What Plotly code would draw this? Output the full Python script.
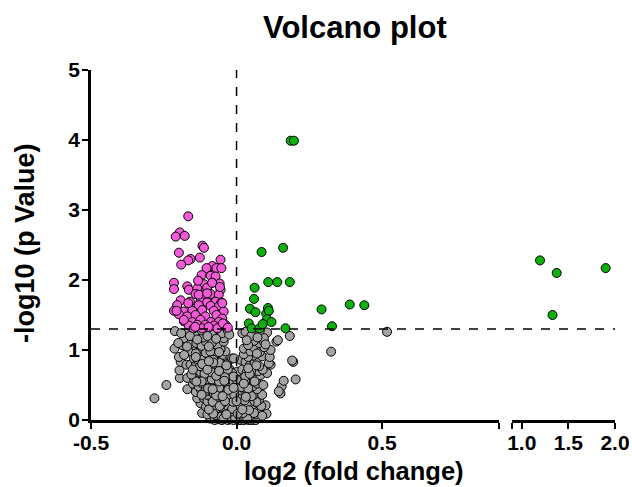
import plotly.graph_objects as go

# ---------------- data ----------------
pink_pts = [
    (-0.166, 2.91), (-0.195, 2.68), (-0.209, 2.62), (-0.178, 2.63), (-0.117, 2.49), (-0.112, 2.46),
    (-0.198, 2.39), (-0.158, 2.30), (-0.166, 2.28), (-0.126, 2.32), (-0.190, 2.22), (-0.055, 2.29),
    (-0.083, 2.20), (-0.103, 2.17), (-0.069, 2.17), (-0.052, 2.17), (-0.120, 2.07), (-0.089, 2.06),
    (-0.072, 2.05), (-0.215, 1.96), (-0.169, 1.91), (-0.130, 1.98), (-0.112, 1.94), (-0.058, 1.95),
    (-0.083, 1.96), (-0.164, 1.86), (-0.135, 1.88), (-0.101, 1.89), (-0.055, 1.86), (-0.141, 1.80),
    (-0.112, 1.79), (-0.089, 1.80), (-0.061, 1.79), (-0.192, 1.71), (-0.160, 1.69), (-0.124, 1.69),
    (-0.101, 1.68), (-0.072, 1.69), (-0.052, 1.68), (-0.204, 1.64), (-0.130, 1.64), (-0.089, 1.63),
    (-0.061, 1.62), (-0.215, 1.56), (-0.181, 1.55), (-0.152, 1.56), (-0.118, 1.57), (-0.078, 1.56),
    (-0.044, 1.55), (-0.198, 1.51), (-0.169, 1.48), (-0.141, 1.50), (-0.107, 1.48), (-0.069, 1.50),
    (-0.049, 1.45), (-0.181, 1.41), (-0.152, 1.40), (-0.124, 1.43), (-0.089, 1.40), (-0.061, 1.40),
    (-0.164, 1.35), (-0.135, 1.36), (-0.107, 1.36), (-0.078, 1.35), (-0.049, 1.35), (-0.147, 1.31),
    (-0.118, 1.31), (-0.066, 1.31), (-0.038, 1.36), (-0.215, 1.87), (-0.206, 1.56), (-0.181, 1.43),
    (-0.166, 1.67), (-0.132, 1.99), (-0.130, 1.79), (-0.101, 1.81), (-0.084, 1.96), (-0.057, 1.90),
    (-0.049, 1.67), (-0.047, 1.38), (-0.096, 1.33), (-0.142, 1.33), (-0.030, 1.32),
]

green_pts = [
    (0.186, 3.99), (0.197, 3.99), (0.160, 2.46), (0.086, 2.40), (0.109, 1.97), (0.140, 1.97),
    (0.183, 1.97), (0.062, 1.89), (0.060, 1.73), (0.046, 1.59), (0.065, 1.54), (0.102, 1.52),
    (0.108, 1.60), (0.111, 1.56), (0.105, 1.44), (0.120, 1.40), (0.042, 1.38), (0.052, 1.31),
    (0.079, 1.31), (0.090, 1.37), (0.168, 1.31), (0.292, 1.58), (0.328, 1.34), (0.389, 1.65),
    (0.439, 1.64), (1.196, 2.28), (1.375, 2.10), (1.900, 2.17), (1.330, 1.50),
]

gray_pts = [
    (-0.090, 0.02), (-0.075, 0.00), (-0.060, 0.01), (-0.050, 0.00), (-0.040, 0.03), (-0.030, 0.00),
    (-0.020, 0.01), (-0.010, 0.00), (0.000, 0.02), (0.008, 0.00), (0.016, 0.00), (0.025, 0.00),
    (0.033, 0.01), (0.042, 0.00), (0.050, 0.00), (0.058, 0.00), (0.066, 0.00), (-0.015, 0.04),
    (0.020, 0.05), (-0.065, 0.04),
    (-0.118, 0.10), (-0.100, 0.08), (-0.085, 0.12), (-0.070, 0.07), (-0.060, 0.13), (-0.045, 0.09),
    (-0.035, 0.14), (-0.025, 0.08), (-0.012, 0.11), (-0.004, 0.06), (0.006, 0.13), (0.015, 0.08),
    (0.028, 0.12), (0.038, 0.07), (0.048, 0.11), (0.056, 0.14), (0.066, 0.08), (0.080, 0.12),
    (0.103, 0.09), (0.088, 0.06), (-0.050, 0.15), (0.000, 0.15),
    (-0.124, 0.24), (-0.105, 0.19), (-0.090, 0.22), (-0.078, 0.17), (-0.066, 0.23), (-0.055, 0.18),
    (-0.044, 0.21), (-0.033, 0.17), (-0.022, 0.24), (-0.010, 0.19), (-0.003, 0.22), (0.008, 0.17),
    (0.018, 0.23), (0.030, 0.19), (0.040, 0.16), (0.052, 0.22), (0.060, 0.18), (0.072, 0.24),
    (0.100, 0.21), (0.085, 0.20),
    (-0.135, 0.31), (-0.112, 0.31), (-0.100, 0.27), (-0.088, 0.33), (-0.075, 0.28), (-0.064, 0.34),
    (-0.052, 0.27), (-0.040, 0.32), (-0.030, 0.28), (-0.018, 0.34), (-0.008, 0.29), (0.004, 0.33),
    (0.015, 0.27), (0.025, 0.31), (0.036, 0.34), (0.046, 0.28), (0.058, 0.32), (0.077, 0.29),
    (0.068, 0.26),
    (-0.169, 0.44), (-0.140, 0.40), (-0.122, 0.43), (-0.101, 0.36), (-0.090, 0.41), (-0.078, 0.38),
    (-0.066, 0.43), (-0.055, 0.37), (-0.045, 0.41), (-0.035, 0.44), (-0.022, 0.38), (-0.015, 0.40),
    (-0.003, 0.40), (0.008, 0.43), (0.020, 0.37), (0.030, 0.42), (0.048, 0.40), (0.060, 0.36),
    (0.088, 0.36), (0.070, 0.44),
    (-0.241, 0.50), (-0.150, 0.52), (-0.130, 0.48), (-0.118, 0.52), (-0.105, 0.47), (-0.092, 0.54),
    (-0.080, 0.49), (-0.068, 0.53), (-0.049, 0.52), (-0.040, 0.47), (-0.028, 0.51), (-0.015, 0.48),
    (-0.004, 0.53), (0.010, 0.50), (0.028, 0.46), (0.042, 0.53), (0.055, 0.48), (0.071, 0.52),
    (0.092, 0.50), (0.155, 0.48), (0.151, 0.38), (0.145, 0.41), (-0.282, 0.31),
    (-0.195, 0.60), (-0.169, 0.60), (-0.130, 0.60), (-0.145, 0.57), (-0.115, 0.63), (-0.100, 0.58),
    (-0.088, 0.62), (-0.075, 0.57), (-0.062, 0.64), (-0.050, 0.59), (-0.032, 0.64), (-0.020, 0.58),
    (0.002, 0.64), (0.015, 0.60), (0.042, 0.60), (0.055, 0.63), (0.068, 0.58), (0.082, 0.64),
    (0.203, 0.58), (0.162, 0.56),
    (-0.196, 0.71), (-0.141, 0.74), (-0.125, 0.69), (-0.110, 0.72), (-0.095, 0.67), (-0.078, 0.69),
    (-0.065, 0.74), (-0.052, 0.70), (-0.040, 0.67), (-0.025, 0.73), (0.002, 0.69), (-0.015, 0.67),
    (0.020, 0.72), (0.035, 0.68), (0.060, 0.74), (0.075, 0.70), (0.105, 0.67), (0.090, 0.72),
    (-0.192, 0.83), (-0.172, 0.79), (-0.158, 0.79), (-0.140, 0.82), (-0.125, 0.77), (-0.110, 0.84),
    (-0.098, 0.78), (-0.085, 0.81), (-0.070, 0.76), (-0.055, 0.79), (-0.045, 0.84), (-0.032, 0.80),
    (0.014, 0.86), (0.031, 0.83), (0.045, 0.78), (0.062, 0.81), (0.078, 0.77), (0.117, 0.79),
    (0.111, 0.81), (0.195, 0.83), (0.191, 0.85),
    (-0.198, 0.90), (-0.147, 0.88), (-0.124, 0.93), (-0.135, 0.87), (-0.112, 0.89), (-0.100, 0.94),
    (-0.088, 0.87), (-0.075, 0.92), (-0.060, 0.88), (-0.048, 0.93), (-0.015, 0.88), (-0.009, 0.88),
    (0.071, 0.88), (0.058, 0.92), (0.040, 0.90), (0.088, 0.91), (0.114, 0.90), (0.025, 0.94),
    (-0.213, 1.02), (-0.147, 1.02), (-0.165, 0.98), (-0.130, 0.97), (-0.118, 1.03), (-0.089, 1.00),
    (-0.105, 0.96), (-0.072, 1.04), (-0.038, 0.98), (-0.055, 1.01), (0.025, 1.02), (0.048, 0.98),
    (0.062, 1.03), (0.080, 0.97), (0.117, 1.00), (0.095, 1.04),
    (-0.187, 1.07), (-0.179, 1.15), (-0.152, 1.14), (-0.160, 1.08), (-0.138, 1.10), (-0.120, 1.06),
    (-0.105, 1.12), (-0.066, 1.07), (-0.085, 1.10), (-0.044, 1.12), (0.077, 1.10), (0.060, 1.13),
    (0.040, 1.07), (0.094, 1.12), (0.137, 1.12), (0.142, 1.14),
    (-0.212, 1.27), (-0.181, 1.17), (-0.130, 1.21), (-0.145, 1.25), (-0.115, 1.18), (-0.095, 1.26),
    (-0.080, 1.22), (-0.061, 1.29), (-0.044, 1.17), (-0.050, 1.24), (-0.030, 1.28), (-0.120, 1.28),
    (-0.165, 1.28), (0.020, 1.24), (0.031, 1.26), (0.065, 1.24), (0.105, 1.25), (0.094, 1.17),
    (0.050, 1.20), (0.183, 1.20), (0.080, 1.28),
    (0.325, 0.976), (0.517, 1.26),
    (-0.052, 0.05), (-0.038, 0.06), (-0.027, 0.03), (0.012, 0.04), (0.030, 0.03), (0.045, 0.05),
    (-0.070, 0.16), (-0.030, 0.20), (0.012, 0.20), (0.045, 0.25), (-0.058, 0.30), (0.010, 0.30),
    (-0.030, 0.36), (0.038, 0.38), (-0.060, 0.46), (0.018, 0.47), (-0.085, 0.58), (-0.010, 0.55),
    (0.030, 0.56), (-0.090, 0.75), (-0.060, 0.82), (-0.030, 0.72), (0.050, 0.70), (0.030, 0.62),
    (-0.070, 0.95), (-0.110, 0.66), (-0.120, 0.55), (-0.110, 0.40),
    (-0.045, 0.02), (-0.005, 0.03), (0.037, 0.02), (-0.080, 0.09), (-0.020, 0.12), (0.022, 0.10),
    (0.060, 0.10), (-0.095, 0.15), (-0.015, 0.16), (0.035, 0.22), (-0.082, 0.26), (-0.048, 0.24),
    (-0.012, 0.26), (0.028, 0.28), (-0.120, 0.36), (-0.070, 0.35), (-0.008, 0.36), (0.052, 0.34),
    (-0.098, 0.45), (-0.028, 0.43), (0.040, 0.45), (-0.138, 0.55), (-0.060, 0.55), (0.000, 0.58),
    (0.062, 0.55), (-0.155, 0.65), (-0.085, 0.68), (-0.040, 0.61), (0.045, 0.66), (-0.150, 0.72),
    (-0.118, 0.80), (-0.080, 0.86), (0.040, 0.74), (0.068, 0.78), (-0.180, 0.93), (-0.140, 0.95),
    (-0.090, 0.98), (0.070, 0.95), (-0.200, 1.10), (-0.095, 1.05), (0.100, 1.08), (-0.160, 1.20),
    (-0.100, 1.20), (-0.070, 1.16), (0.035, 1.14), (0.072, 1.18), (-0.190, 1.24), (-0.025, 1.22),
    (-0.035, 0.08), (0.004, 0.09), (0.043, 0.14), (-0.058, 0.20), (0.020, 0.15), (-0.040, 0.27),
    (0.000, 0.27), (-0.048, 0.34), (0.032, 0.33), (-0.082, 0.44), (-0.010, 0.46), (-0.042, 0.56),
    (0.025, 0.52), (-0.070, 0.63), (-0.010, 0.62), (-0.100, 0.72), (-0.060, 0.70), (-0.035, 0.78),
    (-0.080, 0.82), (-0.140, 0.90), (-0.095, 0.84), (-0.060, 0.97), (-0.170, 1.05), (-0.135, 1.15),
]

threshold_y = 1.3
y_ticks = [0, 1, 2, 3, 4, 5]
x1_ticks = [-0.5, 0.0, 0.5, 0.9]
x1_labels = ["-0.5", "0.0", "0.5", ""]
x2_ticks = [0.9, 1.0, 1.5, 2.0]
x2_labels = ["", "1.0", "1.5", "2.0"]

BREAK = 0.9

# ---------------- figure ----------------
W, H = 632, 487
FONT = "Liberation Sans, Arial, sans-serif"

def split(pts):
    a = [p for p in pts if p[0] <= BREAK]
    b = [p for p in pts if p[0] > BREAK]
    return a, b

def bold(labels):
    return [f"<b>{t}</b>" if t else "" for t in labels]

fig = go.Figure()
series = [
    (gray_pts, "#A3A3A3"),
    (pink_pts, "#F25AD8"),
    (green_pts, "#0DB00D"),
]
for pts, col in series:
    a, b = split(pts)
    for sub, xa in ((a, "x"), (b, "x2")):
        if not sub:
            continue
        fig.add_trace(go.Scatter(
            x=[p[0] for p in sub], y=[p[1] for p in sub],
            mode="markers", xaxis=xa, yaxis="y", cliponaxis=False,
            marker=dict(size=9, color=col, line=dict(color="black", width=1)),
            showlegend=False, hoverinfo="skip",
        ))

axis_common = dict(
    showgrid=False, zeroline=False, showline=True, linecolor="black", linewidth=2.5,
    ticks="outside", ticklen=6, tickwidth=2, tickcolor="black", automargin=False,
    tickfont=dict(family=FONT, size=21, color="black"),
)

px_x1a, px_x1b = 91, 498.5
px_x2a, px_x2b = 512.4, 615
px_y0, px_y5 = 420, 70

fig.update_layout(
    template="none",
    width=W, height=H, margin=dict(l=0, r=0, t=0, b=0, autoexpand=False),
    paper_bgcolor="white", plot_bgcolor="white",
    xaxis=dict(domain=[px_x1a / W, px_x1b / W], range=[-0.5, BREAK], ticklabelstandoff=-4,
               tickvals=x1_ticks, ticktext=bold(x1_labels), anchor="y", **axis_common),
    xaxis2=dict(domain=[px_x2a / W, px_x2b / W], range=[BREAK, 2.0], ticklabelstandoff=-4,
                tickvals=x2_ticks, ticktext=bold(x2_labels), anchor="y", **axis_common),
    yaxis=dict(domain=[1 - px_y0 / H, 1 - px_y5 / H], range=[0, 5], ticklabelstandoff=-2,
               tickvals=y_ticks, ticktext=bold([str(v) for v in y_ticks]),
               anchor="x", **axis_common),
    shapes=[
        dict(type="line", xref="paper", yref="y", x0=px_x1a / W, x1=px_x2b / W,
             y0=threshold_y, y1=threshold_y, line=dict(color="black", width=1.5, dash="dash")),
        dict(type="line", xref="x", yref="y", x0=0, x1=0, y0=0, y1=5,
             line=dict(color="black", width=1.5, dash="dash")),
    ],
    annotations=[
        dict(text="<b>Volcano plot</b>", xref="paper", yref="paper", x=354.5 / W, y=1 - 28 / H,
             showarrow=False, xanchor="center", yanchor="middle",
             font=dict(family=FONT, size=31, color="black")),
        dict(text="<b>log2 (fold change)</b>", xref="paper", yref="paper", x=354 / W, y=1 - 471 / H,
             showarrow=False, xanchor="center", yanchor="middle",
             font=dict(family=FONT, size=25.5, color="black")),
        dict(text="<b>-log10 (p Value)</b>", xref="paper", yref="paper", x=25 / W, y=1 - 243 / H,
             showarrow=False, xanchor="center", yanchor="middle", textangle=-90,
             font=dict(family=FONT, size=27, color="black")),
    ],
)

fig.write_html("out.html")
